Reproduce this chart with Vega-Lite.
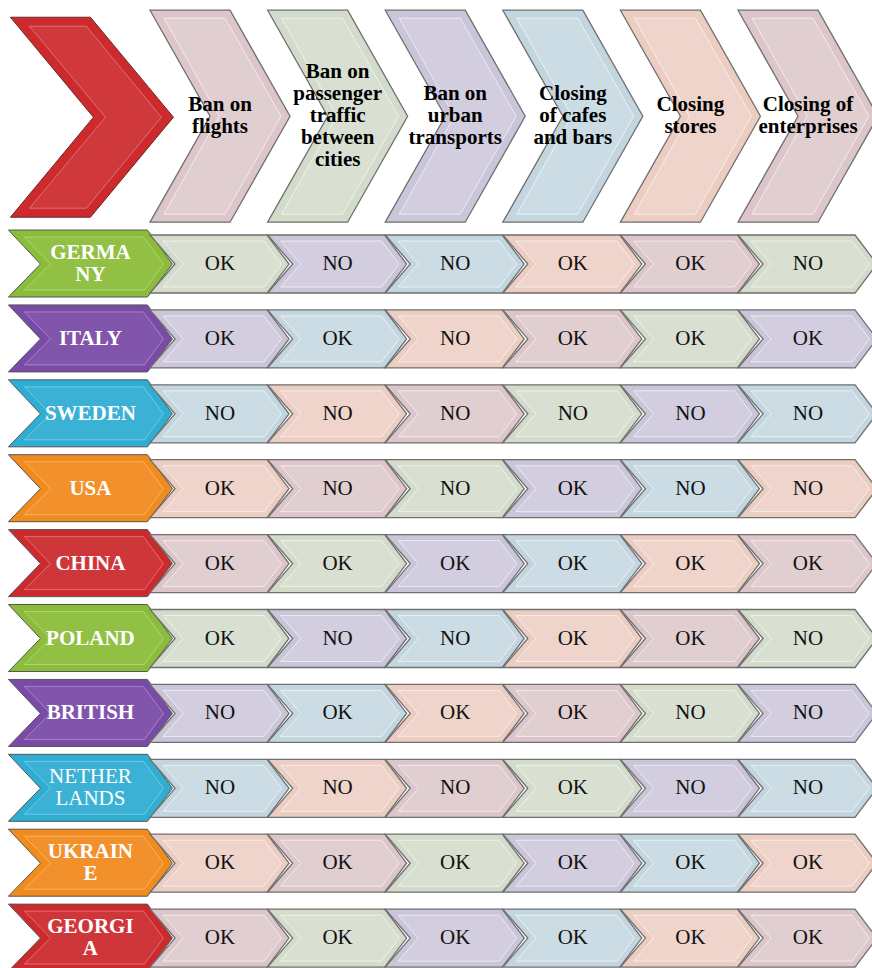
{
  "$schema": "https://vega.github.io/schema/vega-lite/v6.json",
  "width": 872,
  "height": 968,
  "padding": 0,
  "autosize": {"type": "none"},
  "background": "white",
  "config": {"view": {"stroke": null}},
  "datasets": {
    "corner": [{"col": 0, "row": -1, "tint": "red"}],
    "headers": [
      {"col": 1, "row": -1, "tint": "rose", "label": "Ban on\nflights"},
      {"col": 2, "row": -1, "tint": "sage", "label": "Ban on\npassenger\ntraffic\nbetween\ncities"},
      {"col": 3, "row": -1, "tint": "lavender", "label": "Ban on\nurban\ntransports"},
      {"col": 4, "row": -1, "tint": "blue", "label": "Closing\nof cafes\nand bars"},
      {"col": 5, "row": -1, "tint": "peach", "label": "Closing\nstores"},
      {"col": 6, "row": -1, "tint": "rose", "label": "Closing of\nenterprises"}
    ],
    "countries": [
      {"col": 0, "row": 1, "country": "GERMANY", "label": "GERMA\nNY", "tint": "green"},
      {"col": 0, "row": 2, "country": "ITALY", "label": "ITALY", "tint": "purple"},
      {"col": 0, "row": 3, "country": "SWEDEN", "label": "SWEDEN", "tint": "cyan"},
      {"col": 0, "row": 4, "country": "USA", "label": "USA", "tint": "orange"},
      {"col": 0, "row": 5, "country": "CHINA", "label": "CHINA", "tint": "red"},
      {"col": 0, "row": 6, "country": "POLAND", "label": "POLAND", "tint": "green"},
      {"col": 0, "row": 7, "country": "BRITISH", "label": "BRITISH", "tint": "purple"},
      {"col": 0, "row": 8, "country": "NETHERLANDS", "label": "NETHER\nLANDS", "tint": "cyan"},
      {"col": 0, "row": 9, "country": "UKRAINE", "label": "UKRAIN\nE", "tint": "orange"},
      {"col": 0, "row": 10, "country": "GEORGIA", "label": "GEORGI\nA", "tint": "red"}
    ],
    "cells": [
      {"row": 1, "col": 1, "value": "OK", "tint": "sage"},
      {"row": 1, "col": 2, "value": "NO", "tint": "lavender"},
      {"row": 1, "col": 3, "value": "NO", "tint": "blue"},
      {"row": 1, "col": 4, "value": "OK", "tint": "peach"},
      {"row": 1, "col": 5, "value": "OK", "tint": "rose"},
      {"row": 1, "col": 6, "value": "NO", "tint": "sage"},
      {"row": 2, "col": 1, "value": "OK", "tint": "lavender"},
      {"row": 2, "col": 2, "value": "OK", "tint": "blue"},
      {"row": 2, "col": 3, "value": "NO", "tint": "peach"},
      {"row": 2, "col": 4, "value": "OK", "tint": "rose"},
      {"row": 2, "col": 5, "value": "OK", "tint": "sage"},
      {"row": 2, "col": 6, "value": "OK", "tint": "lavender"},
      {"row": 3, "col": 1, "value": "NO", "tint": "blue"},
      {"row": 3, "col": 2, "value": "NO", "tint": "peach"},
      {"row": 3, "col": 3, "value": "NO", "tint": "rose"},
      {"row": 3, "col": 4, "value": "NO", "tint": "sage"},
      {"row": 3, "col": 5, "value": "NO", "tint": "lavender"},
      {"row": 3, "col": 6, "value": "NO", "tint": "blue"},
      {"row": 4, "col": 1, "value": "OK", "tint": "peach"},
      {"row": 4, "col": 2, "value": "NO", "tint": "rose"},
      {"row": 4, "col": 3, "value": "NO", "tint": "sage"},
      {"row": 4, "col": 4, "value": "OK", "tint": "lavender"},
      {"row": 4, "col": 5, "value": "NO", "tint": "blue"},
      {"row": 4, "col": 6, "value": "NO", "tint": "peach"},
      {"row": 5, "col": 1, "value": "OK", "tint": "rose"},
      {"row": 5, "col": 2, "value": "OK", "tint": "sage"},
      {"row": 5, "col": 3, "value": "OK", "tint": "lavender"},
      {"row": 5, "col": 4, "value": "OK", "tint": "blue"},
      {"row": 5, "col": 5, "value": "OK", "tint": "peach"},
      {"row": 5, "col": 6, "value": "OK", "tint": "rose"},
      {"row": 6, "col": 1, "value": "OK", "tint": "sage"},
      {"row": 6, "col": 2, "value": "NO", "tint": "lavender"},
      {"row": 6, "col": 3, "value": "NO", "tint": "blue"},
      {"row": 6, "col": 4, "value": "OK", "tint": "peach"},
      {"row": 6, "col": 5, "value": "OK", "tint": "rose"},
      {"row": 6, "col": 6, "value": "NO", "tint": "sage"},
      {"row": 7, "col": 1, "value": "NO", "tint": "lavender"},
      {"row": 7, "col": 2, "value": "OK", "tint": "blue"},
      {"row": 7, "col": 3, "value": "OK", "tint": "peach"},
      {"row": 7, "col": 4, "value": "OK", "tint": "rose"},
      {"row": 7, "col": 5, "value": "NO", "tint": "sage"},
      {"row": 7, "col": 6, "value": "NO", "tint": "lavender"},
      {"row": 8, "col": 1, "value": "NO", "tint": "blue"},
      {"row": 8, "col": 2, "value": "NO", "tint": "peach"},
      {"row": 8, "col": 3, "value": "NO", "tint": "rose"},
      {"row": 8, "col": 4, "value": "OK", "tint": "sage"},
      {"row": 8, "col": 5, "value": "NO", "tint": "lavender"},
      {"row": 8, "col": 6, "value": "NO", "tint": "blue"},
      {"row": 9, "col": 1, "value": "OK", "tint": "peach"},
      {"row": 9, "col": 2, "value": "OK", "tint": "rose"},
      {"row": 9, "col": 3, "value": "OK", "tint": "sage"},
      {"row": 9, "col": 4, "value": "OK", "tint": "lavender"},
      {"row": 9, "col": 5, "value": "OK", "tint": "blue"},
      {"row": 9, "col": 6, "value": "OK", "tint": "peach"},
      {"row": 10, "col": 1, "value": "OK", "tint": "rose"},
      {"row": 10, "col": 2, "value": "OK", "tint": "sage"},
      {"row": 10, "col": 3, "value": "OK", "tint": "lavender"},
      {"row": 10, "col": 4, "value": "OK", "tint": "blue"},
      {"row": 10, "col": 5, "value": "OK", "tint": "peach"},
      {"row": 10, "col": 6, "value": "OK", "tint": "rose"}
    ]
  },
  "encoding": {
    "x": {"field": "col", "type": "quantitative", "scale": {"domain": [-0.871, 6.544], "nice": false, "zero": false}, "axis": null},
    "y": {"field": "row", "type": "quantitative", "scale": {"domain": [-2.525, 10.399], "nice": false, "zero": false, "reverse": true}, "axis": null}
  },
  "layer": [
    {
      "data": {"name": "corner"},
      "mark": {"type": "point", "shape": "M-92,-97L-12,-97L71,3L-12,103L-92,103L-9,3Z", "size": 4, "filled": true, "opacity": 1, "stroke": "#6a2a2a", "strokeWidth": 1},
      "encoding": {"fill": {"field": "tint", "type": "nominal", "legend": null, "scale": {"domain": ["green", "purple", "cyan", "orange", "red", "sage", "lavender", "blue", "peach", "rose"], "range": ["#8BBD3A", "#7A4BA6", "#2FAED3", "#F28B1E", "#CD2A2E", "#D3DBCA", "#CBC5DA", "#C3D6E0", "#EBCDC2", "#DCC6C9"]}}}
    },
    {
      "data": {"name": "corner"},
      "mark": {"type": "point", "shape": "M-73,-88L-16,-88L59,3L-16,94L-73,94L3,3Z", "size": 4, "filled": true, "opacity": 1, "fill": "white", "fillOpacity": 0.07, "stroke": "white", "strokeOpacity": 0.3, "strokeWidth": 1}
    },
    {
      "data": {"name": "headers"},
      "mark": {"type": "point", "shape": "M-70,-104L10,-104L70,2L10,108L-70,108L-10,2Z", "size": 4, "filled": true, "opacity": 1, "stroke": "#6f6f6f", "strokeWidth": 1.3},
      "encoding": {"fill": {"field": "tint", "type": "nominal", "legend": null}}
    },
    {
      "data": {"name": "headers"},
      "mark": {"type": "point", "shape": "M-56,-96L5,-96L61,2L5,100L-56,100L-1,2Z", "size": 4, "filled": true, "opacity": 1, "fill": "white", "fillOpacity": 0.15, "stroke": "white", "strokeOpacity": 0.6, "strokeWidth": 1}
    },
    {
      "data": {"name": "countries"},
      "mark": {"type": "point", "shape": "M-94,-34L45,-34L70,0L45,33L-94,33L-62,0Z", "size": 4, "filled": true, "opacity": 1, "stroke": "#555555", "strokeWidth": 1},
      "encoding": {"fill": {"field": "tint", "type": "nominal", "legend": null}}
    },
    {
      "data": {"name": "countries"},
      "mark": {"type": "point", "shape": "M-78,-27L41,-27L61,0L42,26L-78,26L-52,0Z", "size": 4, "filled": true, "opacity": 1, "fill": "white", "fillOpacity": 0.06, "stroke": "white", "strokeOpacity": 0.3, "strokeWidth": 1}
    },
    {
      "data": {"name": "cells"},
      "mark": {"type": "point", "shape": "M-70,-29L47,-29L69,0L47,29L-70,29L-45,0Z", "size": 4, "filled": true, "opacity": 1, "stroke": "#6f6f6f", "strokeWidth": 1.3},
      "encoding": {"fill": {"field": "tint", "type": "nominal", "legend": null}}
    },
    {
      "data": {"name": "cells"},
      "mark": {"type": "point", "shape": "M-57,-23L44,-23L61.5,0L44,23L-57,23L-37,0Z", "size": 4, "filled": true, "opacity": 1, "fill": "white", "fillOpacity": 0.15, "stroke": "white", "strokeOpacity": 0.6, "strokeWidth": 1}
    },
    {
      "data": {"name": "headers"},
      "transform": [{"filter": "length(split(datum.label, '\\n')) == 2"}],
      "mark": {"type": "text", "font": "Liberation Serif", "fontSize": 21, "fontWeight": "bold", "lineHeight": 22, "lineBreak": "\n", "align": "center", "baseline": "middle", "dy": -9, "color": "#000000"},
      "encoding": {"text": {"field": "label"}}
    },
    {
      "data": {"name": "headers"},
      "transform": [{"filter": "length(split(datum.label, '\\n')) == 3"}],
      "mark": {"type": "text", "font": "Liberation Serif", "fontSize": 21, "fontWeight": "bold", "lineHeight": 22, "lineBreak": "\n", "align": "center", "baseline": "middle", "dy": -20, "color": "#000000"},
      "encoding": {"text": {"field": "label"}}
    },
    {
      "data": {"name": "headers"},
      "transform": [{"filter": "length(split(datum.label, '\\n')) == 5"}],
      "mark": {"type": "text", "font": "Liberation Serif", "fontSize": 21, "fontWeight": "bold", "lineHeight": 22, "lineBreak": "\n", "align": "center", "baseline": "middle", "dy": -42, "color": "#000000"},
      "encoding": {"text": {"field": "label"}}
    },
    {
      "data": {"name": "countries"},
      "transform": [{"filter": "datum.country !== 'NETHERLANDS' && length(split(datum.label, '\\n')) == 1"}],
      "mark": {"type": "text", "font": "Liberation Serif", "fontSize": 21, "fontWeight": "bold", "align": "center", "baseline": "middle", "dx": -12, "color": "#ffffff"},
      "encoding": {"text": {"field": "label"}}
    },
    {
      "data": {"name": "countries"},
      "transform": [{"filter": "datum.country !== 'NETHERLANDS' && length(split(datum.label, '\\n')) == 2"}],
      "mark": {"type": "text", "font": "Liberation Serif", "fontSize": 21, "fontWeight": "bold", "lineHeight": 22, "lineBreak": "\n", "align": "center", "baseline": "middle", "dx": -12, "dy": -11, "color": "#ffffff"},
      "encoding": {"text": {"field": "label"}}
    },
    {
      "data": {"name": "countries"},
      "transform": [{"filter": "datum.country === 'NETHERLANDS'"}],
      "mark": {"type": "text", "font": "Liberation Serif", "fontSize": 21, "fontWeight": "normal", "lineHeight": 22, "lineBreak": "\n", "align": "center", "baseline": "middle", "dx": -12, "dy": -11, "color": "#ffffff"},
      "encoding": {"text": {"field": "label"}}
    },
    {
      "data": {"name": "cells"},
      "mark": {"type": "text", "font": "Liberation Serif", "fontSize": 21, "align": "center", "baseline": "middle", "color": "#111111"},
      "encoding": {"text": {"field": "value"}}
    }
  ]
}
